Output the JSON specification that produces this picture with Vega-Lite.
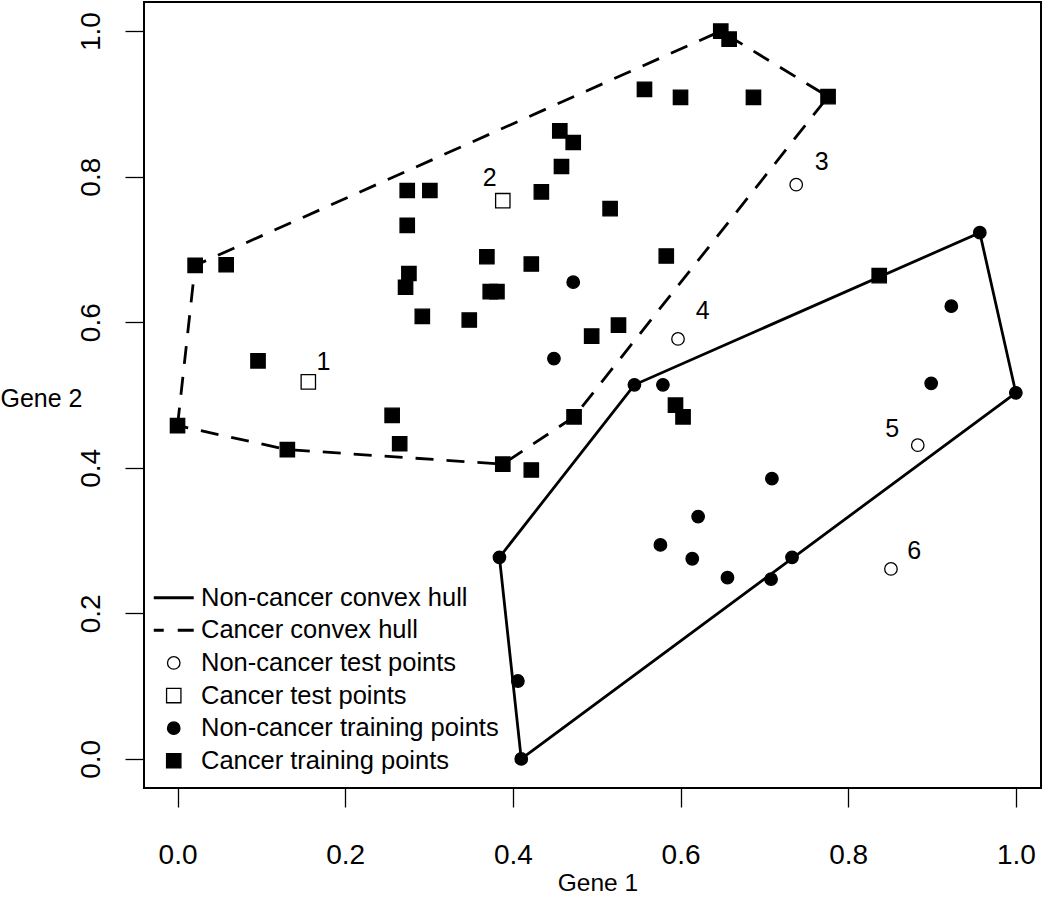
{
  "$schema": "https://vega.github.io/schema/vega-lite/v6.json",
  "width": 897,
  "height": 786,
  "autosize": {"type": "none"},
  "padding": {"left": 144, "top": 2, "right": 9, "bottom": 109},
  "background": "white",
  "config": {
    "view": {"stroke": "black", "strokeWidth": 2},
    "font": "Liberation Sans"
  },
  "datasets": {
    "pts": [
      {"series": "Cancer training points", "x": 0.000, "y": 0.458},
      {"series": "Cancer training points", "x": 0.021, "y": 0.678},
      {"series": "Cancer training points", "x": 0.058, "y": 0.679},
      {"series": "Cancer training points", "x": 0.096, "y": 0.547},
      {"series": "Cancer training points", "x": 0.131, "y": 0.425},
      {"series": "Cancer training points", "x": 0.256, "y": 0.472},
      {"series": "Cancer training points", "x": 0.265, "y": 0.433},
      {"series": "Cancer training points", "x": 0.272, "y": 0.648},
      {"series": "Cancer training points", "x": 0.276, "y": 0.667},
      {"series": "Cancer training points", "x": 0.274, "y": 0.733},
      {"series": "Cancer training points", "x": 0.274, "y": 0.781},
      {"series": "Cancer training points", "x": 0.301, "y": 0.781},
      {"series": "Cancer training points", "x": 0.292, "y": 0.608},
      {"series": "Cancer training points", "x": 0.348, "y": 0.603},
      {"series": "Cancer training points", "x": 0.369, "y": 0.690},
      {"series": "Cancer training points", "x": 0.373, "y": 0.642},
      {"series": "Cancer training points", "x": 0.381, "y": 0.642},
      {"series": "Cancer training points", "x": 0.422, "y": 0.680},
      {"series": "Cancer training points", "x": 0.434, "y": 0.779},
      {"series": "Cancer training points", "x": 0.456, "y": 0.863},
      {"series": "Cancer training points", "x": 0.472, "y": 0.847},
      {"series": "Cancer training points", "x": 0.458, "y": 0.814},
      {"series": "Cancer training points", "x": 0.516, "y": 0.756},
      {"series": "Cancer training points", "x": 0.557, "y": 0.920},
      {"series": "Cancer training points", "x": 0.600, "y": 0.909},
      {"series": "Cancer training points", "x": 0.687, "y": 0.909},
      {"series": "Cancer training points", "x": 0.648, "y": 1.000},
      {"series": "Cancer training points", "x": 0.658, "y": 0.989},
      {"series": "Cancer training points", "x": 0.776, "y": 0.910},
      {"series": "Cancer training points", "x": 0.583, "y": 0.691},
      {"series": "Cancer training points", "x": 0.526, "y": 0.596},
      {"series": "Cancer training points", "x": 0.494, "y": 0.581},
      {"series": "Cancer training points", "x": 0.594, "y": 0.486},
      {"series": "Cancer training points", "x": 0.603, "y": 0.470},
      {"series": "Cancer training points", "x": 0.473, "y": 0.470},
      {"series": "Cancer training points", "x": 0.388, "y": 0.405},
      {"series": "Cancer training points", "x": 0.422, "y": 0.397},
      {"series": "Cancer training points", "x": 0.837, "y": 0.664},
      {"series": "Non-cancer training points", "x": 0.472, "y": 0.655},
      {"series": "Non-cancer training points", "x": 0.449, "y": 0.550},
      {"series": "Non-cancer training points", "x": 0.545, "y": 0.514},
      {"series": "Non-cancer training points", "x": 0.579, "y": 0.514},
      {"series": "Non-cancer training points", "x": 0.957, "y": 0.723},
      {"series": "Non-cancer training points", "x": 0.923, "y": 0.622},
      {"series": "Non-cancer training points", "x": 0.899, "y": 0.516},
      {"series": "Non-cancer training points", "x": 1.000, "y": 0.503},
      {"series": "Non-cancer training points", "x": 0.709, "y": 0.385},
      {"series": "Non-cancer training points", "x": 0.621, "y": 0.333},
      {"series": "Non-cancer training points", "x": 0.576, "y": 0.294},
      {"series": "Non-cancer training points", "x": 0.614, "y": 0.275},
      {"series": "Non-cancer training points", "x": 0.656, "y": 0.249},
      {"series": "Non-cancer training points", "x": 0.708, "y": 0.247},
      {"series": "Non-cancer training points", "x": 0.733, "y": 0.277},
      {"series": "Non-cancer training points", "x": 0.384, "y": 0.277},
      {"series": "Non-cancer training points", "x": 0.406, "y": 0.107},
      {"series": "Non-cancer training points", "x": 0.410, "y": 0.000},
      {"series": "Non-cancer test points", "x": 0.738, "y": 0.789},
      {"series": "Non-cancer test points", "x": 0.597, "y": 0.577},
      {"series": "Non-cancer test points", "x": 0.883, "y": 0.431},
      {"series": "Non-cancer test points", "x": 0.851, "y": 0.261},
      {"series": "Cancer test points", "x": 0.156, "y": 0.518},
      {"series": "Cancer test points", "x": 0.388, "y": 0.767}
    ],
    "hullN": [
      {"k": 0, "x": 0.410, "y": 0.000},
      {"k": 1, "x": 0.384, "y": 0.277},
      {"k": 2, "x": 0.545, "y": 0.514},
      {"k": 3, "x": 0.957, "y": 0.723},
      {"k": 4, "x": 1.000, "y": 0.503}
    ],
    "hullC": [
      {"k": 0, "x": 0.000, "y": 0.458},
      {"k": 1, "x": 0.021, "y": 0.678},
      {"k": 2, "x": 0.648, "y": 1.000},
      {"k": 3, "x": 0.776, "y": 0.910},
      {"k": 4, "x": 0.473, "y": 0.470},
      {"k": 5, "x": 0.388, "y": 0.405},
      {"k": 6, "x": 0.131, "y": 0.425}
    ],
    "labs": [
      {"lab": "1", "x": 0.174, "y": 0.545},
      {"lab": "2", "x": 0.3725, "y": 0.798},
      {"lab": "3", "x": 0.7685, "y": 0.820},
      {"lab": "4", "x": 0.6266, "y": 0.615},
      {"lab": "5", "x": 0.8526, "y": 0.4527},
      {"lab": "6", "x": 0.8786, "y": 0.2863}
    ]
  },
  "encoding": {
    "x": {
      "field": "x", "type": "quantitative", "title": "Gene 1",
      "scale": {"domain": [-0.04, 1.03], "nice": false, "zero": false},
      "axis": {
        "values": [0, 0.2, 0.4, 0.6, 0.8, 1.0], "format": ".1f",
        "domain": false, "grid": false,
        "tickSize": 19, "tickColor": "black", "tickWidth": 1.3,
        "labelFontSize": 28, "labelColor": "black", "labelPadding": 34,
        "labelBaseline": "top", "labelAlign": "center", "labelFlush": false, "labelOverlap": false,
        "titleFontSize": 24.5, "titleFontWeight": "normal", "titleColor": "black",
        "titleX": 453.5, "titleY": 102, "titleBaseline": "alphabetic", "titleAlign": "center"
      }
    },
    "y": {
      "field": "y", "type": "quantitative", "title": "Gene 2",
      "scale": {"domain": [-0.04, 1.04], "nice": false, "zero": false},
      "axis": {
        "values": [0, 0.2, 0.4, 0.6, 0.8, 1.0], "format": ".1f",
        "domain": false, "grid": false,
        "tickSize": 19, "tickColor": "black", "tickWidth": 1.3,
        "labelFontSize": 28, "labelColor": "black", "labelPadding": 20,
        "labelAngle": -90, "labelAlign": "center", "labelBaseline": "bottom",
        "labelFlush": false, "labelOverlap": false,
        "titleFontSize": 25, "titleFontWeight": "normal", "titleColor": "black",
        "titleAngle": 0, "titleX": -144, "titleY": 396, "titleAlign": "left", "titleBaseline": "middle"
      }
    }
  },
  "layer": [
    {
      "data": {"name": "hullN"},
      "mark": {"type": "line", "interpolate": "linear-closed", "color": "black", "strokeWidth": 2.8},
      "encoding": {"order": {"field": "k", "type": "quantitative"}}
    },
    {
      "data": {"name": "hullC"},
      "mark": {"type": "line", "interpolate": "linear-closed", "color": "black", "strokeWidth": 2.8, "strokeDash": [18, 13]},
      "encoding": {"order": {"field": "k", "type": "quantitative"}}
    },
    {
      "data": {"name": "pts"},
      "mark": {"type": "point", "filled": true, "opacity": 1, "size": 156, "strokeWidth": 1.3},
      "encoding": {
        "shape": {
          "field": "series", "type": "nominal",
          "scale": {
            "domain": ["Non-cancer convex hull", "Cancer convex hull", "Non-cancer test points", "Cancer test points", "Non-cancer training points", "Cancer training points"],
            "range": ["M-3.2,-0.24H3.2V0.24H-3.2Z", "M-3.2,-0.24H-1.6V0.24H-3.2Z M0.64,-0.24H3.2V0.24H0.64Z", "circle", "M-1.15,-1.15H1.15V1.15H-1.15Z", "circle", "M-1.15,-1.15H1.15V1.15H-1.15Z"]
          },
          "legend": {
            "title": null, "orient": "none", "legendX": 17, "legendY": 583, "padding": 0,
            "labelFontSize": 25.5, "labelColor": "black", "labelLimit": 600,
            "symbolSize": 156, "symbolStrokeWidth": 1.3, "rowPadding": 5.6, "labelOffset": 14.5
          }
        },
        "fill": {
          "field": "series", "type": "nominal",
          "scale": {
            "domain": ["Non-cancer convex hull", "Cancer convex hull", "Non-cancer test points", "Cancer test points", "Non-cancer training points", "Cancer training points"],
            "range": ["black", "black", "white", "white", "black", "black"]
          }
        },
        "stroke": {
          "field": "series", "type": "nominal",
          "scale": {
            "domain": ["Non-cancer convex hull", "Cancer convex hull", "Non-cancer test points", "Cancer test points", "Non-cancer training points", "Cancer training points"],
            "range": ["transparent", "transparent", "black", "black", "black", "black"]
          }
        }
      }
    },
    {
      "data": {"name": "labs"},
      "mark": {"type": "text", "fontSize": 25, "color": "black", "align": "center", "baseline": "middle"},
      "encoding": {"text": {"field": "lab", "type": "nominal"}}
    }
  ]
}
